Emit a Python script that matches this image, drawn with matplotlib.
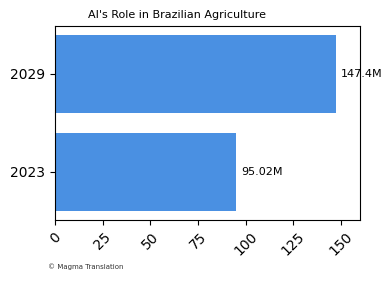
import matplotlib
matplotlib.use("Agg")
from matplotlib import pyplot as plt

years = ["2023", "2029"]
values = [95.02, 147.4]
labels = ["95.02M", "147.4M"]

fig = plt.figure(figsize=(3.91, 2.82), dpi=100)
ax = fig.add_axes([0.141, 0.22, 0.78, 0.688])
ax.barh(years, values, color="#4a90e2", height=0.8)
for i, (v, t) in enumerate(zip(values, labels)):
    ax.text(v + 2.5, i, t, va="center", ha="left", fontsize=8)
ax.set_xlim(0, 160)
ax.set_xticks([0, 25, 50, 75, 100, 125, 150])
ax.tick_params(axis="x", labelrotation=45, labelsize=10)
ax.tick_params(axis="y", labelsize=10)
ax.set_title("AI's Role in Brazilian Agriculture", fontsize=8, x=0.4)
fig.text(0.123, 0.045, "© Magma Translation", fontsize=5, color="#333333")

plt.savefig("out.png", dpi=100)
